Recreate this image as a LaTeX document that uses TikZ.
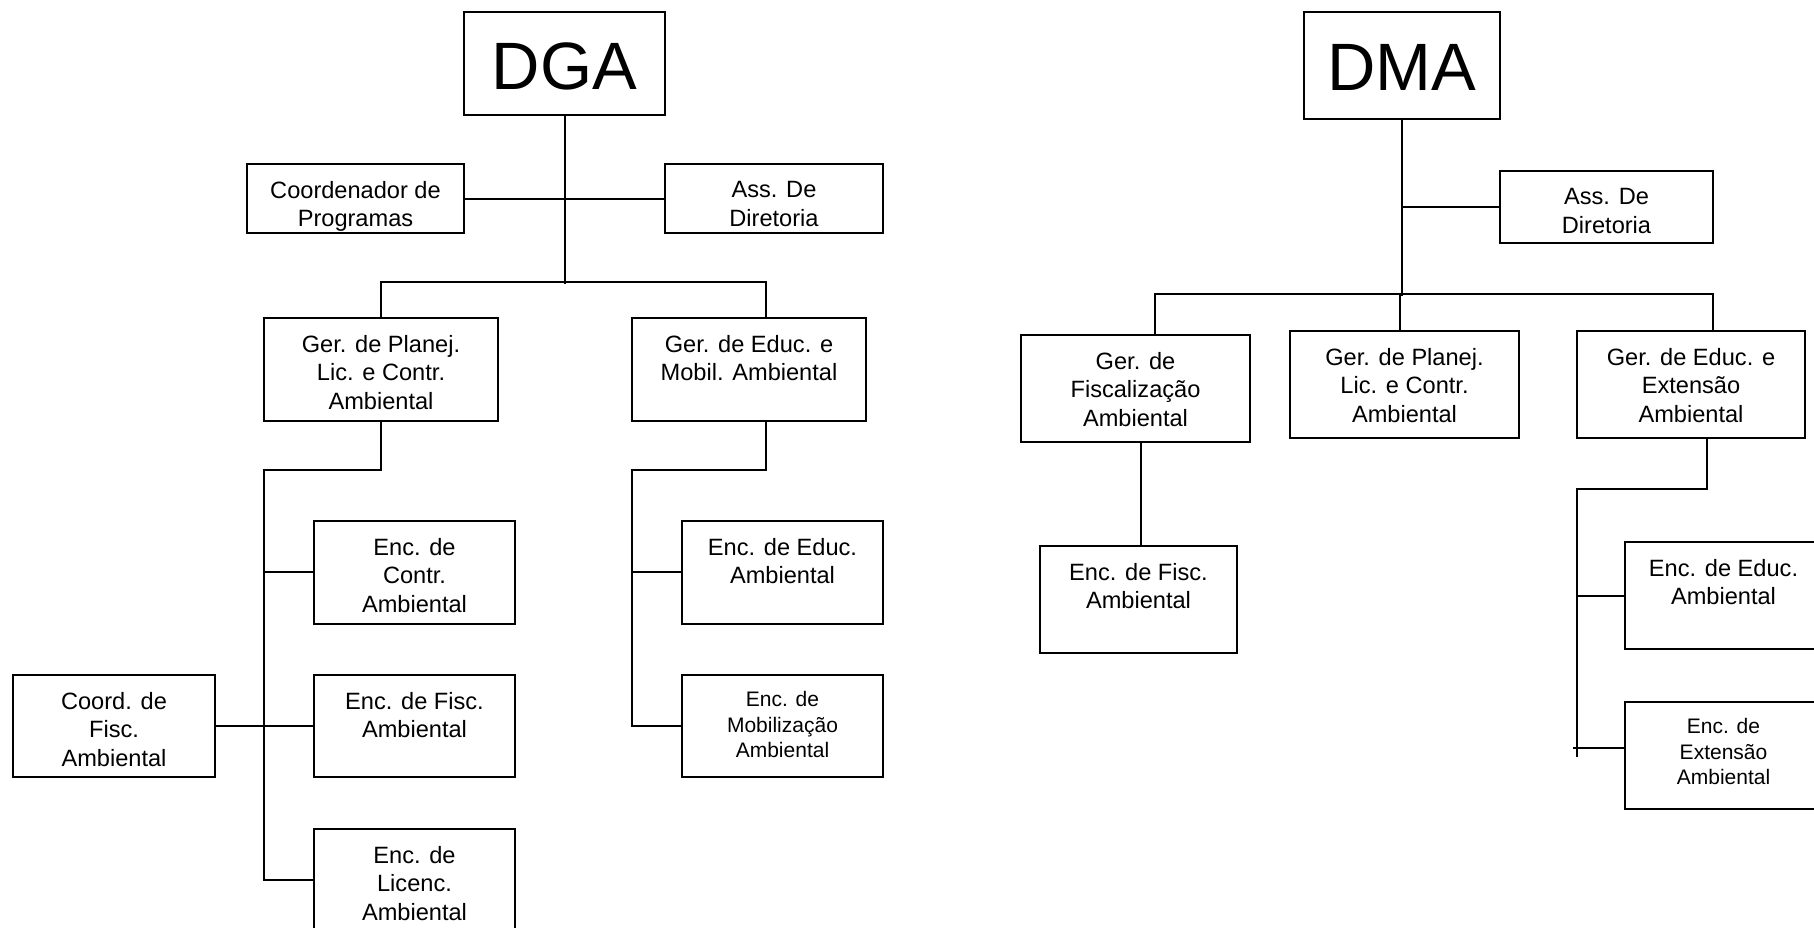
\documentclass[tikz,border=0pt]{standalone}
\usepackage{fontspec}
\setmainfont{Liberation Sans}
\usetikzlibrary{fit,calc}
\tikzset{
  boxst/.style={draw, line width=1.8pt, inner sep=0pt, rectangle},
  txt/.style={align=center, inner sep=0pt, anchor=north, font=\fontsize{23.6}{28.5}\selectfont},
  txts/.style={align=center, inner sep=0pt, anchor=north, font=\fontsize{21}{25.5}\selectfont},
  big/.style={inner sep=0pt, font=\fontsize{67}{70}\selectfont},
  conn/.style={line width=1.8pt},
}
\newcommand{\orgbox}[5]{\node[boxst, fit={(#2,#3) (#4,#5)}] (#1) {};}
\begin{document}
\begin{tikzpicture}[x=1pt,y=-1pt]
\clip (0,0) rectangle (1814,927);
\fill[white] (0,0) rectangle (1814,927);

% ---------- DGA side ----------
\orgbox{dga}{464}{12}{665}{115}
\node[big] (dga-t) at ([yshift=-3pt]dga.center) {DGA};

\orgbox{coordprog}{247}{164}{464}{233}
\node[txt] (coordprog-t) at ([yshift=-18pt]coordprog.north) {Coordenador de\\Programas};

\orgbox{assdga}{665}{164}{883}{233}
\node[txt] (assdga-t) at ([yshift=-18pt]assdga.north) {Ass. De\\Diretoria};

\orgbox{gplan}{264}{318}{498}{421}
\node[txt] (gplan-t) at ([yshift=-18pt]gplan.north) {Ger. de Planej.\\Lic. e Contr.\\Ambiental};

\orgbox{geduc}{632}{318}{866}{421}
\node[txt] (geduc-t) at ([yshift=-18pt]geduc.north) {Ger. de Educ. e\\Mobil. Ambiental};

\orgbox{econtr}{314}{521}{515}{624}
\node[txt] (econtr-t) at ([yshift=-18pt]econtr.north) {Enc. de\\Contr.\\Ambiental};

\orgbox{efisc}{314}{675}{515}{777}
\node[txt] (efisc-t) at ([yshift=-18pt]efisc.north) {Enc. de Fisc.\\Ambiental};

\orgbox{coordfisc}{13}{675}{215}{777}
\node[txt] (coordfisc-t) at ([yshift=-18pt]coordfisc.north) {Coord. de\\Fisc.\\Ambiental};

\orgbox{elic}{314}{829}{515}{940}
\node[txt] (elic-t) at ([yshift=-18pt]elic.north) {Enc. de\\Licenc.\\Ambiental};

\orgbox{eeduc}{682}{521}{883}{624}
\node[txt] (eeduc-t) at ([yshift=-18pt]eeduc.north) {Enc. de Educ.\\Ambiental};

\orgbox{emob}{682}{675}{883}{777}
\node[txts] (emob-t) at ([yshift=-17pt]emob.north) {Enc. de\\Mobilização\\Ambiental};

% connectors DGA
\coordinate (jdga) at (565,284);
\coordinate (hc) at (565,199);
\draw[conn] (dga.south -| jdga) -- (jdga);
\draw[conn] (coordprog.east |- hc) -- (assdga.west |- hc);
\coordinate (bl) at (381,282);
\coordinate (br) at (766,282);
\draw[conn] (gplan.north -| bl) -- (bl) -- (br) -- (geduc.north -| br);
\coordinate (l0) at (381,470);
\coordinate (l1) at (264,470);
\coordinate (l2) at (264,880);
\coordinate (lc) at (264,572);
\coordinate (lf) at (264,726);
\draw[conn] (gplan.south -| l0) -- (l0) -- (l1) -- (l2) -- (elic.west |- l2);
\draw[conn] (lc) -- (econtr.west |- lc);
\draw[conn] (coordfisc.east |- lf) -- (efisc.west |- lf);
\coordinate (r0) at (766,470);
\coordinate (r1) at (632,470);
\coordinate (r2) at (632,726);
\coordinate (rc) at (632,572);
\draw[conn] (geduc.south -| r0) -- (r0) -- (r1) -- (r2) -- (emob.west |- r2);
\draw[conn] (rc) -- (eeduc.west |- rc);

% ---------- DMA side ----------
\orgbox{dma}{1304}{12}{1500}{119}
\node[big] (dma-t) at ([yshift=-2pt]dma.center) {DMA};

\orgbox{assdma}{1500}{171}{1713}{243}
\node[txt] (assdma-t) at ([yshift=-18pt]assdma.north) {Ass. De\\Diretoria};

\orgbox{gfisc}{1021}{335}{1250}{442}
\node[txt] (gfisc-t) at ([yshift=-18pt]gfisc.north) {Ger. de\\Fiscalização\\Ambiental};

\orgbox{gplan2}{1290}{331}{1519}{438}
\node[txt] (gplan2-t) at ([yshift=-18pt]gplan2.north) {Ger. de Planej.\\Lic. e Contr.\\Ambiental};

\orgbox{gext}{1577}{331}{1805}{438}
\node[txt] (gext-t) at ([yshift=-18pt]gext.north) {Ger. de Educ. e\\Extensão\\Ambiental};

\orgbox{efisc2}{1040}{546}{1237}{653}
\node[txt] (efisc2-t) at ([yshift=-18pt]efisc2.north) {Enc. de Fisc.\\Ambiental};

\orgbox{eeduc2}{1625}{542}{1822}{649}
\node[txt] (eeduc2-t) at ([yshift=-18pt]eeduc2.north) {Enc. de Educ.\\Ambiental};

\orgbox{eext}{1625}{702}{1822}{809}
\node[txts] (eext-t) at ([yshift=-17pt]eext.north) {Enc. de\\Extensão\\Ambiental};

% connectors DMA
\coordinate (jdma) at (1402,296);
\coordinate (ja) at (1402,207);
\draw[conn] (dma.south -| jdma) -- (jdma);
\draw[conn] (ja) -- (assdma.west |- ja);
\coordinate (b1) at (1155,294);
\coordinate (b2) at (1400,294);
\coordinate (b3) at (1713,294);
\draw[conn] (gfisc.north -| b1) -- (b1) -- (b3) -- (gext.north -| b3);
\draw[conn] (b2) -- (gplan2.north -| b2);
\coordinate (f1) at (1141,500);
\draw[conn] (gfisc.south -| f1) -- (efisc2.north -| f1);
\coordinate (e0) at (1707,489);
\coordinate (e1) at (1577,489);
\coordinate (e2) at (1577,757);
\coordinate (e3) at (1573,748);
\coordinate (ec) at (1577,596);
\draw[conn] (gext.south -| e0) -- (e0) -- (e1) -- (e2);
\draw[conn] (ec) -- (eeduc2.west |- ec);
\draw[conn] (e3) -- (eext.west |- e3);
\end{tikzpicture}
\end{document}
